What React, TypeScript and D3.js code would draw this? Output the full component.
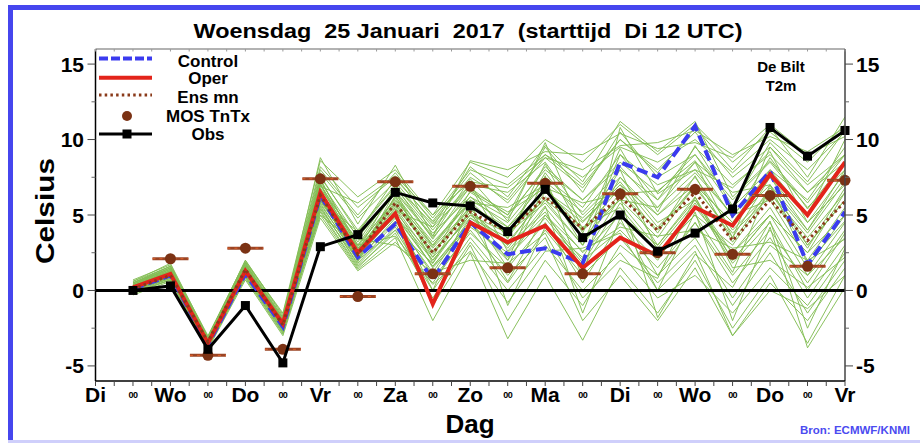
import React from "react";
import * as d3 from "d3";

const W = 920;
const H = 443;
const FONT = "'Liberation Sans', Arial, Helvetica, sans-serif";

// x-axis labels (12-hour steps)
const xLabels = ["Di","00","Wo","00","Do","00","Vr","00","Za","00","Zo","00","Ma","00","Di","00","Wo","00","Do","00","Vr"];
const yTicks = [-5, 0, 5, 10, 15];
const yMinor = [-2.5, 2.5, 7.5, 12.5];

// series start at step 1 (00 UTC Wo)
const obs = [0.0, 0.3, -3.9, -1.0, -4.8, 2.9, 3.7, 6.5, 5.8, 5.6, 3.9, 6.7, 3.5, 5.0, 2.6, 3.8, 5.4, 10.8, 8.9, 10.6];
const oper = [0.2, 1.1, -3.5, 1.3, -2.2, 6.5, 2.5, 5.1, -0.9, 4.5, 3.2, 4.3, 1.5, 3.5, 2.3, 5.5, 4.3, 7.7, 5.0, 8.5];
const control = [0.1, 1.0, -3.6, 1.1, -2.4, 6.3, 2.2, 4.4, 0.7, 4.5, 2.4, 2.8, 1.8, 8.5, 7.5, 10.9, 5.0, 7.9, 1.7, 5.2];
const ensMean = [0.1, 1.0, -3.4, 1.4, -2.3, 6.3, 2.4, 5.8, 2.5, 5.2, 3.9, 6.2, 4.1, 6.2, 4.0, 6.5, 3.3, 6.0, 3.3, 5.9];
// MOS TnTx starts at step 2
const mos = [2.1, -4.3, 2.8, -3.9, 7.4, -0.4, 7.2, 1.1, 6.9, 1.5, 7.1, 1.1, 6.4, 2.5, 6.7, 2.4, 6.3, 1.6, 7.3];

// ensemble members (step 1..20)
const members: number[][] = [
  [0.2, 1.2, -3.4, 1.5, -2.2, 6.5, 2.4, 5.5, 2.0, 5.0, 3.0, 6.5, 4.5, 7.0, 5.0, 7.5, 4.0, 6.5, 3.0, 6.0],
  [0.0, 0.9, -3.6, 1.2, -2.5, 5.8, 2.0, 4.8, 1.0, 4.5, 2.0, 5.5, 2.5, 5.0, 3.0, 6.0, 2.0, 5.0, 1.0, 4.5],
  [0.4, 1.5, -3.2, 1.8, -2.0, 7.2, 3.5, 6.5, 3.5, 6.5, 5.0, 8.0, 6.0, 8.5, 6.5, 9.0, 6.0, 8.5, 5.5, 8.0],
  [-0.2, 0.7, -3.8, 0.9, -2.8, 5.2, 1.5, 4.0, 0.0, 3.5, 0.5, 4.0, 1.0, 3.5, 0.5, 3.0, -1.0, 2.5, -1.5, 2.0],
  [0.6, 1.6, -3.1, 2.0, -1.6, 8.2, 5.5, 7.5, 4.5, 7.5, 6.0, 9.0, 7.0, 10.0, 8.0, 10.5, 7.5, 9.5, 7.0, 9.0],
  [0.1, 1.0, -3.5, 1.3, -2.4, 6.0, 2.6, 5.8, 2.8, 5.5, 4.0, 6.0, 3.0, 6.5, 4.0, 7.0, 3.5, 7.5, 4.5, 7.0],
  [0.3, 1.1, -3.3, 1.6, -2.1, 6.8, 3.0, 6.0, 3.0, 6.0, 4.5, 7.5, 5.5, 9.0, 7.0, 8.0, 5.0, 6.0, 2.0, 5.5],
  [-0.1, 0.8, -3.7, 1.0, -2.6, 5.5, 1.8, 4.5, -1.0, 3.0, -2.0, 2.0, -1.0, 3.0, 1.0, 4.5, 0.5, 3.5, -0.5, 3.0],
  [0.5, 1.4, -3.3, 1.7, -1.9, 7.5, 4.0, 7.0, 4.0, 7.0, 6.5, 8.5, 5.0, 7.5, 4.5, 6.0, 2.5, 5.5, 1.5, 5.0],
  [0.2, 1.3, -3.4, 1.4, -2.3, 6.2, 2.2, 5.2, 2.2, 4.8, 3.5, 6.8, 4.0, 6.0, 3.5, 7.0, 4.5, 8.0, 6.0, 9.5],
  [0.0, 1.0, -3.5, 1.1, -2.5, 5.0, 1.4, 3.5, -2.0, 2.5, -3.2, 1.0, -3.3, 1.5, -1.5, 2.0, -2.5, 1.0, -3.5, 1.0],
  [0.7, 1.7, -3.0, 1.9, -1.5, 8.6, 6.2, 8.0, 5.0, 8.5, 7.5, 10.0, 8.5, 11.0, 9.0, 11.0, 8.5, 10.5, 8.5, 11.0],
  [0.1, 0.9, -3.6, 1.3, -2.4, 6.4, 2.8, 5.6, 2.5, 5.2, 3.2, 6.2, 4.2, 5.5, 2.5, 5.0, 3.0, 6.5, 3.5, 6.5],
  [0.3, 1.2, -3.4, 1.5, -2.2, 6.6, 2.5, 6.2, 3.2, 5.8, 5.5, 7.0, 3.5, 6.0, 5.5, 8.5, 6.5, 7.0, 4.0, 8.0],
  [-0.3, 0.6, -3.9, 0.7, -3.0, 4.8, 1.3, 3.2, 0.5, 4.0, 1.0, 3.5, -2.0, 1.0, -2.0, 1.5, -3.0, 0.5, -2.0, 1.5],
  [0.4, 1.3, -3.3, 1.6, -2.0, 7.0, 3.2, 6.8, 3.8, 6.2, 4.2, 7.2, 5.2, 8.0, 6.0, 9.5, 7.0, 9.0, 6.5, 8.5],
  [0.2, 1.1, -3.5, 1.4, -2.3, 6.3, 2.6, 5.4, 1.5, 4.2, 2.5, 5.0, 2.0, 4.0, 1.5, 4.5, 1.0, 4.0, 0.5, 4.0],
  [0.5, 1.5, -3.2, 1.7, -1.8, 7.8, 4.8, 7.2, 4.2, 6.8, 5.0, 9.5, 6.5, 10.5, 7.5, 9.0, 5.5, 8.0, 5.0, 10.0],
  [0.0, 0.8, -3.7, 1.2, -2.7, 5.6, 1.7, 4.2, 0.8, 3.8, 1.5, 4.5, 0.5, 4.5, 2.0, 5.5, 2.5, 5.0, 2.5, 5.0],
  [0.1, 1.0, -3.4, 1.5, -2.2, 6.1, 2.3, 5.0, 2.0, 5.0, 3.8, 5.8, 3.0, 7.5, 5.0, 7.0, 4.5, 7.0, 3.0, 6.0],
  [0.6, 1.8, -3.1, 2.0, -1.7, 8.0, 5.0, 7.8, 4.8, 8.0, 7.0, 9.0, 7.5, 9.5, 8.5, 10.0, 7.8, 10.0, 8.0, 10.5],
  [-0.2, 0.7, -3.8, 0.8, -2.9, 5.3, 1.6, 3.8, -0.5, 3.2, 0.0, 3.0, 0.0, 2.5, -0.5, 1.0, -1.5, 1.5, -1.0, 2.5],
  [0.3, 1.2, -3.3, 1.6, -2.1, 6.7, 3.6, 6.4, 3.0, 6.2, 4.8, 8.2, 6.0, 8.2, 5.5, 7.8, 5.0, 7.5, 4.0, 7.5],
  [0.2, 1.1, -3.5, 1.3, -2.3, 6.4, 2.5, 5.7, 2.6, 5.4, 2.8, 6.0, 4.0, 6.8, 3.0, 6.2, 2.0, 5.0, 2.5, 6.5],
  [0.4, 1.4, -3.4, 1.7, -2.0, 7.3, 3.0, 6.6, 1.8, 5.2, 1.5, 7.0, 3.0, 9.0, 6.0, 8.5, 3.5, 9.5, 6.5, 9.0],
  [0.0, 0.9, -3.6, 1.1, -2.6, 5.7, 2.1, 4.6, 1.2, 4.8, 3.0, 5.2, 1.5, 5.2, 1.0, 3.5, -0.5, 3.0, 1.0, 3.5],
  [0.2, 1.2, -3.3, 1.5, -2.2, 6.5, 2.7, 5.9, 2.4, 5.6, 4.2, 6.6, 4.8, 7.2, 4.2, 6.8, 3.8, 6.2, 2.8, 6.8],
  [0.5, 1.6, -3.2, 1.8, -1.9, 7.6, 3.8, 7.4, 4.6, 7.8, 5.8, 8.8, 6.8, 10.0, 7.8, 10.8, 8.0, 10.8, 7.5, 11.5],
  [0.1, 1.0, -3.5, 1.2, -2.4, 6.0, 2.2, 5.0, 1.6, 4.4, 2.2, 4.8, 1.8, 5.8, 2.8, 5.8, 1.8, 4.5, 0.0, 3.8],
  [0.3, 1.3, -3.4, 1.5, -2.2, 6.6, 2.9, 6.1, 2.9, 5.9, 3.6, 7.8, 4.6, 7.0, 3.8, 7.6, 3.2, 6.8, 3.8, 7.2],
  [0.1, 1.1, -3.6, 1.2, -2.5, 5.9, 3.9, 6.9, 3.4, 6.9, 2.6, 5.6, -1.5, 4.8, 0.0, 5.2, -2.0, 4.2, -3.8, 0.2],
  [0.3, 1.4, -3.3, 1.6, -2.1, 7.0, 2.4, 5.3, 4.2, 8.2, 6.2, 9.6, 7.2, 11.2, 9.2, 11.2, 6.2, 8.6, 5.8, 9.0],
  [0.2, 1.3, -3.4, 1.6, -2.3, 6.9, 5.8, 7.6, 5.0, 7.2, 6.8, 8.8, 8.0, 9.6, 9.8, 10.6, 9.0, 10.2, 9.2, 10.8],
  [0.4, 1.5, -3.1, 1.9, -1.8, 8.8, 4.4, 8.3, 3.6, 8.6, 8.0, 9.2, 9.0, 10.4, 9.4, 9.8, 8.8, 11.0, 9.0, 10.2],
  [0.0, 0.8, -3.7, 1.0, -2.7, 5.4, 2.0, 4.0, 1.8, 6.0, -1.0, 4.2, 2.2, 6.2, -1.8, 2.4, 0.2, 4.6, -2.5, 2.8],
  [0.3, 1.2, -3.4, 1.4, -2.2, 6.2, 3.4, 3.0, 1.2, 2.0, 1.8, 3.8, -0.5, 2.0, 0.8, 6.2, 1.5, 2.0, 0.2, 2.2],
  [0.1, 1.0, -3.5, 1.3, -2.4, 6.6, 2.0, 6.6, 3.6, 7.4, 4.6, 9.8, 4.0, 8.0, 2.6, 5.0, 1.2, 7.0, 1.8, 4.6],
  [0.5, 1.6, -3.2, 1.8, -2.0, 7.4, 2.8, 5.0, 0.0, 5.6, 2.0, 7.6, 0.8, 10.8, 6.4, 8.0, 6.8, 9.2, 4.5, 7.8],
  [0.2, 1.1, -3.5, 1.3, -2.3, 6.2, 1.9, 6.3, 2.2, 6.6, 5.2, 6.8, 5.8, 6.4, 6.6, 8.6, 4.8, 8.8, 5.4, 8.6],
  [-0.1, 0.7, -3.8, 0.9, -2.8, 5.0, 3.0, 3.6, 0.4, 2.6, -0.8, 2.6, 2.8, 3.8, 0.0, 2.6, -3.0, 0.0, -1.2, 1.0],
  [0.3, 1.3, -3.3, 1.6, -2.1, 7.1, 2.6, 6.9, 4.4, 7.0, 3.4, 8.4, 3.8, 9.4, 5.2, 9.6, 5.6, 9.8, 7.2, 10.6],
  [0.1, 0.9, -3.6, 1.2, -2.5, 5.9, 2.4, 4.9, 1.6, 4.6, 0.6, 5.0, 2.6, 4.2, 3.6, 4.0, 2.8, 3.2, 2.0, 3.4],
];

const legendItems = ["Control", "Oper", "Ens mn", "MOS TnTx", "Obs"];
const titleText = "Woensdag  25 Januari  2017  (starttijd  Di 12 UTC)";

export default function App() {
  const x = d3.scaleLinear().domain([0, 20]).range([95.5, 845]);
  const y = d3.scaleLinear().domain([-6, 16]).range([381, 49]);
  const x0 = x.range()[0], x1 = x.range()[1];
  const yTop = y.range()[1], yBot = y.range()[0];

  const seriesLine = (start: number) =>
    d3.line<number>().x((_, i) => x(i + start)).y((d) => y(d));
  const l1 = seriesLine(1);

  const sixHour = d3.range(0, 20.01, 0.5);
  const legX0 = 99, legX1 = 152, legTx = 208;
  const legY = [58.5, 77.7, 95, 116, 134];
  const legBase = [66.5, 84.3, 102.5, 122.3, 140];

  return (
    <svg width={W} height={H} style={{ position: "absolute", left: 0, top: 0, background: "#fff" }} fontFamily={FONT}>
      <defs>
        <clipPath id="plotclip">
          <rect x={x0} y={yTop} width={x1 - x0} height={yBot - yTop} />
        </clipPath>
      </defs>
      {/* outer frame */}
      <rect x={8} y={5} width={W} height={5} fill="#4646ee" />
      <rect x={8} y={5} width={5} height={436} fill="#4646ee" />
      <rect x={8} y={440} width={W} height={3} fill="#cfcffb" />

      {/* title */}
      <text x={468} y={38} textAnchor="middle" fontSize={20} fontWeight="bold" textLength={549} lengthAdjust="spacingAndGlyphs" xmlSpace="preserve" style={{ whiteSpace: "pre" }}>
        {titleText}
      </text>

      {/* ensemble */}
      <g clipPath="url(#plotclip)">
        {members.map((m, k) => (
          <path key={k} d={l1(m) || ""} fill="none" stroke="#84be55" strokeWidth={1} strokeOpacity={0.95} />
        ))}
      </g>

      {/* zero line */}
      <line x1={x0} x2={x1} y1={y(0)} y2={y(0)} stroke="#000" strokeWidth={3} />

      <g clipPath="url(#plotclip)">
        <path d={l1(control) || ""} fill="none" stroke="#3b3bef" strokeWidth={4} strokeDasharray="11,5" />
        <path d={l1(oper) || ""} fill="none" stroke="#e3241b" strokeWidth={4} />
        <path d={l1(ensMean) || ""} fill="none" stroke="#8a3a1a" strokeWidth={3} strokeDasharray="2.5,3.2" />
        {mos.map((v, i) => (
          <g key={i}>
            <line x1={x(i + 2) - 18} x2={x(i + 2) + 18} y1={y(v)} y2={y(v)} stroke="#9a4424" strokeWidth={3} />
            <line x1={x(i + 2) - 18} x2={x(i + 2) + 18} y1={y(v)} y2={y(v)} stroke="#e0602a" strokeWidth={1} strokeDasharray="3,4" />
          </g>
        ))}
      </g>
      {mos.map((v, i) => (
        <circle key={i} cx={x(i + 2)} cy={y(v)} r={5.5} fill="#7b3214" />
      ))}

      {/* obs */}
      <path d={l1(obs) || ""} fill="none" stroke="#000" strokeWidth={3} />
      {obs.map((v, i) => (
        <rect key={i} x={x(i + 1) - 4.5} y={y(v) - 4.5} width={9} height={9} fill="#000" />
      ))}

      {/* frame of plot */}
      <line x1={x0} x2={x1} y1={yTop} y2={yTop} stroke="#666" strokeWidth={1.2} />
      <line x1={x1} x2={x1} y1={yTop} y2={yBot} stroke="#444" strokeWidth={1.5} />
      <line x1={x0} x2={x0} y1={yTop} y2={yBot} stroke="#000" strokeWidth={1.5} />
      <line x1={x0} x2={x1} y1={yBot} y2={yBot} stroke="#000" strokeWidth={1.5} />

      {/* x ticks */}
      {sixHour.map((t, i) => (
        <g key={i}>
          <line x1={x(t)} x2={x(t)} y1={yBot} y2={yBot + 5} stroke="#444" strokeWidth={1} />
          <line x1={x(t)} x2={x(t)} y1={yTop} y2={yTop + 2.5} stroke="#999" strokeWidth={1} />
        </g>
      ))}
      {xLabels.map((lab, i) =>
        lab === "00" ? (
          <text key={i} x={x(i)} y={398} textAnchor="middle" fontSize={9} fontWeight="bold" letterSpacing={-0.6}>{lab}</text>
        ) : (
          <text key={i} x={x(i)} y={402} textAnchor="middle" fontSize={21} fontWeight="bold">{lab}</text>
        )
      )}
      <text x={470} y={433} textAnchor="middle" fontSize={26} fontWeight="bold">Dag</text>

      {/* y ticks */}
      {yTicks.map((t) => (
        <g key={t}>
          <line x1={x0 - 8} x2={x0} y1={y(t)} y2={y(t)} stroke="#444" strokeWidth={1} />
          <line x1={x1} x2={x1 + 8} y1={y(t)} y2={y(t)} stroke="#444" strokeWidth={1} />
          <text x={84} y={y(t) + 7.5} textAnchor="end" fontSize={21} fontWeight="bold">{t}</text>
          <text x={856} y={y(t) + 7.5} textAnchor="start" fontSize={21} fontWeight="bold">{t}</text>
        </g>
      ))}
      {yMinor.map((t) => (
        <g key={t}>
          <line x1={x0 - 4} x2={x0} y1={y(t)} y2={y(t)} stroke="#666" strokeWidth={1} />
          <line x1={x1} x2={x1 + 4} y1={y(t)} y2={y(t)} stroke="#666" strokeWidth={1} />
        </g>
      ))}
      <text transform="translate(54,211) rotate(-90)" textAnchor="middle" fontSize={26} fontWeight="bold" textLength={106} lengthAdjust="spacingAndGlyphs">Celsius</text>

      {/* legend */}
      <line x1={legX0} x2={legX1} y1={legY[0]} y2={legY[0]} stroke="#3b3bef" strokeWidth={4} strokeDasharray="9,3" />
      <line x1={legX0} x2={legX1} y1={legY[1]} y2={legY[1]} stroke="#e3241b" strokeWidth={4} />
      <line x1={legX0} x2={legX1} y1={legY[2]} y2={legY[2]} stroke="#8a3a1a" strokeWidth={3} strokeDasharray="2.5,3.2" />
      <circle cx={127} cy={legY[3]} r={5} fill="#7b3214" />
      <line x1={legX0} x2={legX1} y1={legY[4]} y2={legY[4]} stroke="#000" strokeWidth={3} />
      <rect x={127 - 4.5} y={legY[4] - 4.5} width={9} height={9} fill="#000" />
      {legendItems.map((t, i) => (
        <text key={t} x={legTx} y={legBase[i]} textAnchor="middle" fontSize={17} fontWeight="bold">{t}</text>
      ))}

      {/* station label */}
      <text x={781} y={72} textAnchor="middle" fontSize={15} fontWeight="bold">De Bilt</text>
      <text x={781} y={91} textAnchor="middle" fontSize={15} fontWeight="bold">T2m</text>

      <text x={855} y={434} textAnchor="middle" fontSize={10} fontWeight="bold" fill="#4b4bf0" textLength={110} lengthAdjust="spacingAndGlyphs">Bron: ECMWF/KNMI</text>
    </svg>
  );
}
